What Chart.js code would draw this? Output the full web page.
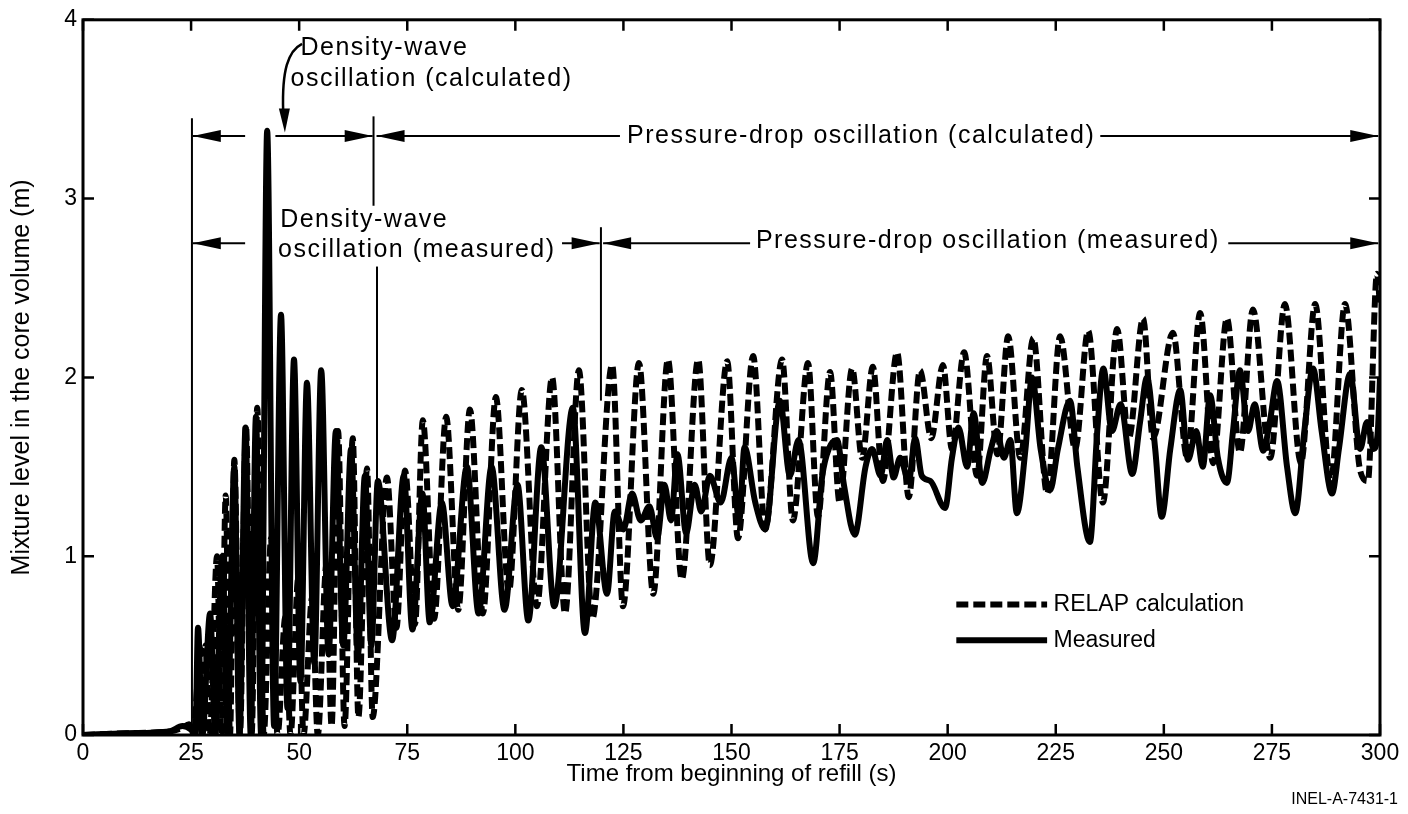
<!DOCTYPE html>
<html>
<head>
<meta charset="utf-8">
<script src="https://cdn.jsdelivr.net/npm/chart.js@4.4.1/dist/chart.umd.min.js"></script>
<style>
  html, body { margin: 0; padding: 0; background: #fff; }
  canvas { display: block; }
</style>
</head>
<body>
<canvas id="refillChart" width="1408" height="814"></canvas>
<script>
// RELAP calculation (dashed) - time (s) and mixture level (m)
const calcTime = [
  0, 10, 20, 23, 24.5, 25.5, 26.8, 27.5, 28.3, 29.3,
  31.0, 32.0, 33.0, 34.0, 35.0, 36.3, 37.7, 39.0, 40.3, 41.8,
  43.5, 45.0, 46.8, 48.0, 49.8, 51.0, 53.0, 54.3, 56.3, 57.5,
  59.0, 60.5, 62.4, 63.7, 65.7, 67.0, 70.3, 72.5, 74.5, 76.8,
  78.6, 81.2, 84.0, 86.8, 89.5, 92.5, 95.5, 98.5, 101.5, 105.0,
  108.5, 111.5, 114.7, 117.8, 122.4, 124.9, 128.6, 131.9, 135.3, 138.5,
  142.3, 145.0, 149.0, 151.5, 155.0, 157.8, 161.7, 164.2, 167.7, 170.0,
  172.8, 175.0, 177.9, 180.2, 182.7, 185.0, 188.3, 191.0, 193.6, 196.2,
  198.9, 201.0, 203.8, 206.8, 209.1, 211.5, 214.0, 216.8, 219.8, 223.0,
  226.0, 229.5, 232.5, 235.9, 239.2, 241.9, 245.2, 247.5, 252.1, 255.4,
  258.4, 261.4, 264.6, 267.6, 270.6, 274.6, 278.0, 281.7, 285.0, 288.6,
  291.9, 295.4, 297.2, 299.3, 300
];
const calcLevel = [
  0, 0.01, 0.02, 0.04, 0.06, 0.0, 0.35, 0.0, 0.5, 0.0,
  1.0, 0.0, 1.34, 0.0, 1.54, 0.0, 1.73, 0.0, 1.83, 0.0,
  1.1, 0.0, 0.66, 0.0, 0.88, 0.0, 0.77, 0.0, 0.95, 0.05,
  1.7, 0.05, 1.66, 0.1, 1.49, 0.1, 1.44, 0.6, 1.48, 0.62,
  1.76, 0.65, 1.78, 0.7, 1.82, 0.68, 1.89, 0.8, 1.93, 0.72,
  2.0, 0.68, 2.04, 0.65, 2.07, 0.72, 2.08, 0.79, 2.1, 0.87,
  2.1, 0.95, 2.09, 1.1, 2.12, 1.15, 2.1, 1.2, 2.08, 1.22,
  2.03, 1.3, 2.05, 1.55, 2.06, 1.42, 2.14, 1.33, 2.04, 1.66,
  2.07, 1.6, 2.14, 1.45, 2.12, 1.57, 2.23, 1.55, 2.22, 1.35,
  2.23, 1.6, 2.26, 1.3, 2.27, 1.66, 2.33, 1.66, 2.25, 1.55,
  2.36, 1.52, 2.33, 1.58, 2.38, 1.55, 2.41, 1.52, 2.41, 1.42,
  2.41, 1.48, 1.42, 2.58, 2.4
];

// Measured (solid)
const measTime = [
  0, 10, 20, 23, 25, 26.0, 26.6, 27.6, 29.4, 30.6,
  32.2, 33.4, 35.0, 36.2, 37.6, 38.8, 40.0, 41.2, 42.6, 44.2,
  45.8, 47.3, 48.8, 50.3, 51.8, 53.5, 55.1, 56.8, 58.5, 60.2,
  62.0, 63.6, 65.2, 66.7, 68.2, 71.5, 74.2, 76.2, 78.5, 80.2,
  83.0, 85.5, 88.8, 91.5, 94.5, 97.5, 100.5, 103.0, 106.0, 109.0,
  113.3, 116.1, 118.5, 121.2, 123.0, 125.0, 127.0, 129.0, 131.0, 132.8,
  134.5, 136.0, 137.5, 139.5, 141.5, 143.0, 145.0, 147.5, 150.0, 151.8,
  153.0, 155.5, 157.8, 161.2, 163.5, 165.5, 168.9, 171.0, 172.5, 174.4,
  176.0, 178.5, 181.0, 182.5, 184.5, 186.0, 187.5, 189.0, 191.0, 192.5,
  194.0, 196.0, 199.4, 201.0, 202.5, 204.5, 206.0, 208.0, 210.0, 211.4,
  213.0, 214.5, 216.0, 218.0, 219.5, 221.5, 223.7, 225.5, 228.3, 230.0,
  232.9, 234.6, 236.0, 238.0, 240.0, 242.7, 244.5, 246.1, 248.0, 249.5,
  251.5, 253.8, 255.6, 257.5, 259.0, 260.7, 262.5, 264.6, 266.0, 267.6,
  269.5, 271.0, 273.0, 274.5, 276.2, 278.5, 280.4, 282.5, 284.5, 286.5,
  288.9, 290.5, 293.1, 295.4, 297.0, 298.5, 299.5, 300
];
const measLevel = [
  0, 0.01, 0.02, 0.05, 0.03, 0.0, 0.6, 0.0, 0.68, 0.0,
  1.0, 0.0, 1.5, 0.0, 1.72, 0.0, 1.78, 0.0, 3.38, 0.05,
  2.35, 0.15, 2.1, 0.3, 1.97, 0.4, 2.04, 0.45, 1.7, 0.5,
  1.6, 0.45, 1.45, 0.5, 1.42, 0.53, 1.45, 0.59, 1.35, 0.63,
  1.3, 0.72, 1.5, 0.68, 1.5, 0.7, 1.4, 0.64, 1.61, 0.72,
  1.83, 0.57, 1.3, 0.79, 1.25, 1.15, 1.35, 1.2, 1.28, 1.1,
  1.4, 1.2, 1.57, 1.13, 1.4, 1.25, 1.45, 1.3, 1.55, 1.2,
  1.61, 1.3, 1.15, 1.87, 1.45, 1.65, 0.96, 1.45, 1.6, 1.65,
  1.4, 1.12, 1.5, 1.6, 1.45, 1.65, 1.44, 1.55, 1.42, 1.66,
  1.45, 1.42, 1.27, 1.55, 1.72, 1.5, 1.8, 1.41, 1.6, 1.7,
  1.55, 1.65, 1.24, 1.6, 2.0, 1.6, 1.37, 1.6, 1.87, 1.5,
  1.08, 1.7, 2.05, 1.7, 1.85, 1.46, 1.75, 2.0, 1.6, 1.22,
  1.6, 1.93, 1.54, 1.7, 1.5, 1.9, 1.55, 1.41, 1.7, 2.04,
  1.7, 1.85, 1.59, 1.75, 1.98, 1.5, 1.24, 1.7, 2.05, 1.7,
  1.35, 1.6, 2.02, 1.6, 1.75, 1.6, 1.7, 2.0
];

const xTicks = [0, 25, 50, 75, 100, 125, 150, 175, 200, 225, 250, 275, 300];
const yTicks = [0, 1, 2, 3, 4];

const FONT = '"Liberation Sans", Arial, Helvetica, sans-serif';

function toPoints(xs, ys) {
  return xs.map((t, i) => ({ x: t, y: ys[i] }));
}

// white page behind the chart
const whiteBg = {
  id: 'whiteBg',
  beforeDraw(chart) {
    const c = chart.ctx;
    c.save();
    c.fillStyle = '#fff';
    c.fillRect(0, 0, chart.width, chart.height);
    c.restore();
  }
};

// box frame with inward ticks on all four sides
const frame = {
  id: 'frame',
  afterDatasetsDraw(chart) {
    const { ctx, chartArea: a, scales: { x, y } } = chart;
    ctx.save();
    ctx.strokeStyle = '#000';
    ctx.lineWidth = 3;
    ctx.strokeRect(a.left, a.top, a.right - a.left, a.bottom - a.top);
    ctx.lineWidth = 2.5;
    ctx.beginPath();
    xTicks.forEach(v => {
      const px = x.getPixelForValue(v);
      ctx.moveTo(px, a.bottom); ctx.lineTo(px, a.bottom - 11);
      ctx.moveTo(px, a.top); ctx.lineTo(px, a.top + 11);
    });
    yTicks.forEach(v => {
      const py = y.getPixelForValue(v);
      ctx.moveTo(a.left, py); ctx.lineTo(a.left + 11, py);
      ctx.moveTo(a.right, py); ctx.lineTo(a.right - 11, py);
    });
    ctx.stroke();
    ctx.restore();
  }
};

// oscillation-range arrows, labels, legend
const notes = {
  id: 'notes',
  afterDraw(chart) {
    const { ctx, chartArea: a, scales: { x, y } } = chart;
    const X = v => x.getPixelForValue(v);
    const Y = v => y.getPixelForValue(v);
    ctx.save();
    ctx.strokeStyle = '#000';
    ctx.fillStyle = '#000';
    ctx.lineWidth = 2;

    function vline(xv, y1, y2) {
      ctx.beginPath();
      ctx.moveTo(X(xv), Y(y1));
      ctx.lineTo(X(xv), Y(y2));
      ctx.stroke();
    }
    function arrow(from, to, yv) {
      const y0 = Y(yv), x1 = X(from), x2 = X(to);
      const dir = Math.sign(x2 - x1);
      ctx.beginPath();
      ctx.moveTo(x1, y0);
      ctx.lineTo(x2, y0);
      ctx.stroke();
      ctx.beginPath();
      ctx.moveTo(x2, y0);
      ctx.lineTo(x2 - dir * 28, y0 - 6);
      ctx.lineTo(x2 - dir * 28, y0 + 6);
      ctx.closePath();
      ctx.fill();
    }

    // vertical markers
    vline(25.2, 3.45, 0);
    vline(67.2, 3.46, 2.96);
    vline(68.0, 2.62, 1.4);
    vline(119.8, 2.84, 1.87);

    // calculated row
    arrow(37.5, 25.4, 3.35);
    arrow(44.5, 67.0, 3.35);
    arrow(124.2, 67.9, 3.35);
    arrow(235.3, 299.6, 3.35);
    // measured row
    arrow(37.5, 25.4, 2.75);
    arrow(110.8, 119.5, 2.75);
    arrow(154.3, 120.3, 2.75);
    arrow(264.9, 299.6, 2.75);

    // curved pointer from the calculated label
    ctx.lineWidth = 2.5;
    ctx.beginPath();
    ctx.moveTo(X(50.66), Y(3.866));
    ctx.bezierCurveTo(X(47.4), Y(3.827), X(46.0), Y(3.715), X(46.3), Y(3.49));
    ctx.stroke();
    const tipX = X(46.7), tipY = Y(3.37);
    ctx.beginPath();
    ctx.moveTo(tipX, tipY);
    ctx.lineTo(tipX - 6, tipY - 24);
    ctx.lineTo(tipX + 5, tipY - 24);
    ctx.closePath();
    ctx.fill();

    // labels
    ctx.font = '25px ' + FONT;
    ctx.letterSpacing = '1.5px';
    ctx.textBaseline = 'middle';
    ctx.textAlign = 'left';
    ctx.fillText('Density-wave', X(50.3), Y(3.84));
    ctx.fillText('oscillation (calculated)', X(48.0), Y(3.67));
    ctx.fillText('Density-wave', X(45.6), Y(2.88));
    ctx.fillText('oscillation (measured)', X(45.1), Y(2.71));
    ctx.textAlign = 'center';
    ctx.fillText('Pressure-drop oscillation (calculated)', X(180), Y(3.35));
    ctx.fillText('Pressure-drop oscillation (measured)', X(209.3), Y(2.76));

    // legend
    ctx.font = '23px ' + FONT;
    ctx.letterSpacing = '0px';
    const ds = chart.data.datasets;
    const rows = [[ds[0], 0.73], [ds[1], 0.53]];
    rows.forEach(([d, yv]) => {
      ctx.save();
      ctx.lineWidth = d.borderWidth;
      ctx.setLineDash(d.borderDash || []);
      ctx.beginPath();
      ctx.moveTo(X(202), Y(yv));
      ctx.lineTo(X(223), Y(yv));
      ctx.stroke();
      ctx.restore();
      ctx.textAlign = 'left';
      ctx.fillText(d.label, X(224.5), Y(yv));
    });

    // figure number
    ctx.font = '16px ' + FONT;
    ctx.textAlign = 'right';
    ctx.fillText('INEL-A-7431-1', 1398, 800);
    ctx.restore();
  }
};

const ctx = document.getElementById('refillChart').getContext('2d');
const refillChart = new Chart(ctx, {
  type: 'scatter',
  data: {
    datasets: [{
      label: 'RELAP calculation',
      data: toPoints(calcTime, calcLevel),
      showLine: true,
      borderColor: '#000',
      borderWidth: 6,
      borderDash: [12, 5],
      pointRadius: 0,
      cubicInterpolationMode: 'monotone'
    }, {
      label: 'Measured',
      data: toPoints(measTime, measLevel),
      showLine: true,
      borderColor: '#000',
      borderWidth: 6,
      pointRadius: 0,
      cubicInterpolationMode: 'monotone'
    }]
  },
  options: {
    responsive: false,
    animation: false,
    layout: { padding: { top: 18, right: 28, left: 0, bottom: 0 } },
    plugins: {
      legend: { display: false },
      tooltip: { enabled: false }
    },
    scales: {
      x: {
        type: 'linear',
        min: 0,
        max: 300,
        afterFit(s) { s.height = 79; },
        afterBuildTicks(s) { s.ticks = xTicks.map(v => ({ value: v })); },
        ticks: { color: '#000', font: { size: 23, family: FONT }, padding: 5, maxRotation: 0 },
        grid: { display: false, drawTicks: false },
        border: { display: false },
        title: {
          display: true,
          text: 'Time from beginning of refill (s)',
          color: '#000',
          font: { size: 24, family: FONT },
          padding: { top: 0, bottom: 25 }
        }
      },
      y: {
        min: 0,
        max: 4,
        afterFit(s) { s.width = 83; },
        afterBuildTicks(s) { s.ticks = yTicks.map(v => ({ value: v })); },
        ticks: { color: '#000', font: { size: 23, family: FONT }, padding: 6 },
        grid: { display: false, drawTicks: false },
        border: { display: false },
        title: {
          display: true,
          text: 'Mixture level in the core volume (m)',
          color: '#000',
          font: { size: 25, family: FONT },
          padding: { top: 7, bottom: 0 }
        }
      }
    }
  },
  plugins: [whiteBg, frame, notes]
});
</script>
</body>
</html>
